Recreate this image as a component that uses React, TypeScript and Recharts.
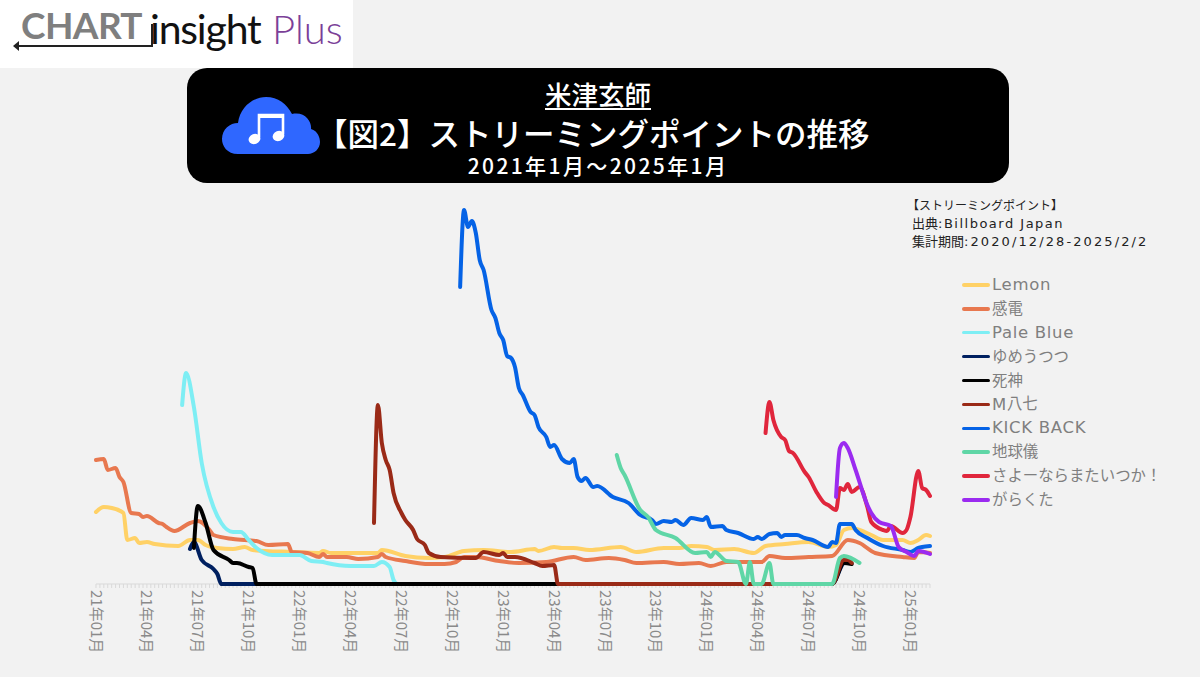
import { LineChart, Line, XAxis, YAxis, Legend } from 'recharts';

const JP = '"Noto Sans CJK JP", "Noto Sans", sans-serif';
const LATIN = '"DejaVu Sans", "Noto Sans CJK JP", sans-serif';

// 週番号(0 = 2021年1月第1週), 相対ポイント
const lemon = [[0,72],[2,77],[4,76],[7,71],[8,44],[10,46],[11,41],[13,42],[15,40],[21,38],[24,44],[26,44],[28,39],[31,36],[35,35],[38,37],[40,34],[50,32],[57,31],[58,33],[60,31],[72,31],[73,34],[79,28],[85,26],[89,27],[94,33],[99,34],[106,32],[112,35],[113,33],[117,37],[119,36],[122,36],[126,34],[134,37],[138,32],[145,36],[149,36],[152,38],[156,37],[158,34],[163,35],[168,31],[171,38],[176,40],[182,42],[187,37],[189,39],[191,54],[193,56],[195,54],[198,49],[201,44],[206,44],[208,41],[210,44],[212,49],[213,48]];
const kanden = [[0,124],[2,125],[3,114],[5,116],[6,107],[7,102],[9,71],[11,70],[12,67],[13,68],[16,61],[17,60],[18,57],[20,53],[24,61],[26,63],[29,54],[30,49],[35,45],[41,43],[44,39],[49,40],[50,32],[54,31],[57,27],[58,30],[59,27],[64,27],[67,25],[72,27],[73,30],[74,27],[79,23],[85,20],[89,20],[92,22],[94,27],[97,27],[103,23],[108,21],[115,22],[122,27],[125,24],[131,26],[135,24],[138,21],[145,22],[149,20],[154,21],[157,18],[161,22],[166,22],[170,22],[172,28],[176,26],[182,27],[188,28],[192,44],[195,41],[199,31],[206,27],[209,26],[210,32],[213,31]];
const paleBlue = [[22,179],[23,211],[25,177],[27,121],[30,77],[32,61],[35,52],[37,52],[39,44],[41,36],[45,29],[52,29],[55,23],[58,22],[59,21],[65,18],[71,18],[73,22],[75,17],[76,4],[77,0],[188,0]];
const yumeutsutsu = [[24,35],[25,42],[27,24],[30,15],[31,10],[32,0],[188,0],[191,21],[192,22]];
const shinigami = [[25,36],[26,78],[28,61],[30,34],[34,24],[35,21],[36,21],[39,17],[40,16],[41,0],[188,0],[191,21],[193,20]];
const m87 = [[71,61],[72,179],[73,141],[74,124],[75,114],[76,91],[78,71],[79,64],[81,54],[82,45],[84,39],[85,31],[88,27],[96,26],[97,26],[99,32],[103,29],[104,31],[105,27],[107,27],[112,21],[114,18],[117,19],[118,0],[188,0],[191,24],[192,24],[193,21]];
const kickBack = [[93,297],[94,374],[95,357],[96,363],[97,351],[98,324],[99,314],[101,274],[102,266],[103,251],[104,244],[105,228],[106,226],[107,217],[108,196],[109,189],[111,172],[112,169],[113,157],[115,147],[116,137],[117,139],[119,125],[121,121],[122,125],[123,107],[124,103],[125,106],[127,97],[128,98],[132,87],[136,81],[139,69],[142,64],[143,60],[145,63],[147,62],[148,64],[150,59],[152,66],[155,64],[156,67],[157,57],[160,58],[161,54],[164,51],[168,45],[169,47],[170,45],[172,50],[174,51],[175,47],[176,49],[179,49],[181,46],[183,44],[187,37],[188,42],[189,41],[190,60],[193,60],[194,54],[197,46],[201,38],[206,34],[208,32],[210,36],[211,37],[213,38]];
const chikyugi = [[133,129],[134,116],[135,109],[139,74],[141,67],[143,54],[148,46],[153,31],[156,32],[157,27],[158,32],[161,23],[164,22],[166,0],[167,22],[168,0],[170,0],[172,21],[173,0],[188,0],[190,26],[191,28],[195,21]];
const sayonara = [[171,151],[172,182],[173,164],[175,147],[176,144],[177,133],[178,131],[181,112],[182,107],[184,92],[186,81],[187,79],[189,74],[190,96],[191,94],[192,100],[193,92],[195,97],[197,77],[198,62],[201,54],[202,53],[203,58],[206,51],[207,54],[208,67],[210,113],[211,96],[212,94],[213,88]];
const garakuta = [[189,87],[190,136],[191,141],[192,136],[194,114],[197,79],[198,71],[200,62],[203,58],[205,37],[207,32],[209,28],[210,33],[213,30]];

const seriesNames = ['Lemon', '感電', 'Pale Blue', 'ゆめうつつ', '死神', 'M八七', 'KICK BACK', '地球儀', 'さよーならまたいつか！', 'がらくた'];
const seriesValues = [lemon, kanden, paleBlue, yumeutsutsu, shinigami, m87, kickBack, chikyugi, sayonara, garakuta];
const seriesColors = ['#FFD166', '#E8784F', '#7EEEF4', '#002060', '#000000', '#9A2A17', '#0563E6', '#5FD6A6', '#E0263C', '#9B2BF0'];

const tickWeeks = [0, 13, 26, 39, 52, 65, 78, 91, 104, 117, 130, 143, 156, 169, 182, 195, 208];
const tickLabels = ['21年01月', '21年04月', '21年07月', '21年10月', '22年01月', '22年04月', '22年07月', '22年10月', '23年01月', '23年04月', '23年07月', '23年10月', '24年01月', '24年04月', '24年07月', '24年10月', '25年01月'];
const allWeeks = Array.from({ length: 214 }, (_, i) => i);

function WeekTick({ x, y, payload }: any) {
  const i = tickWeeks.indexOf(payload.value);
  if (i < 0) return <g />;
  return (
    <text
      x={x}
      y={y}
      dy={-1}
      transform={`rotate(90 ${x} ${y})`}
      fill="#8a8a8a"
      fontSize={15}
      fontFamily={JP}
      dominantBaseline="central"
      textAnchor="start"
    >
      {tickLabels[i]}
    </text>
  );
}

// 英字だけ幅の広いフォントにする
function MixedText({ text, latin, jp }: { text: string; latin: number; jp: number }) {
  return (
    <>
      {text.split(/([A-Za-z ]+)/).filter(Boolean).map((part, i) =>
        /[A-Za-z]/.test(part) ? (
          <span key={i} style={{ fontFamily: LATIN, fontSize: latin, letterSpacing: 0.7 }}>{part}</span>
        ) : (
          <span key={i} style={{ fontFamily: JP, fontSize: jp, position: 'relative', top: -1 }}>{part}</span>
        )
      )}
    </>
  );
}

function SongLegend() {
  return (
    <div>
      {seriesNames.map((name, i) => (
        <div key={name} style={{ height: 23.9, display: 'flex', alignItems: 'center', whiteSpace: 'nowrap' }}>
          <span style={{ width: 28, height: 3.5, borderRadius: 2, background: seriesColors[i], marginRight: 2 }} />
          <span style={{ color: '#7f7f7f', lineHeight: '20px' }}>
            <MixedText text={name} latin={16.5} jp={15.4} />
          </span>
        </div>
      ))}
    </div>
  );
}

export default function App() {
  return (
    <div style={{ position: 'absolute', left: 0, top: 0, width: 1200, height: 677, background: '#f2f2f2', overflow: 'hidden' }}>
      <LineChart width={1200} height={677} margin={{ top: 184, right: 270, bottom: 23, left: 96 }}>
        <XAxis
          dataKey="week"
          type="number"
          domain={[0, 213]}
          ticks={allWeeks}
          interval={0}
          height={70}
          tickSize={4}
          tickLine={{ stroke: '#d9d9d9' }}
          axisLine={{ stroke: '#d9d9d9' }}
          tick={WeekTick}
          zIndex={100}
        />
        <YAxis hide domain={[0, 400]} />
        <Legend
          layout="vertical"
          align="center"
          verticalAlign="middle"
          content={SongLegend}
          wrapperStyle={{ left: 962, top: 273, width: 230 }}
        />
        {seriesNames.map((name, i) => (
          <Line
            key={name}
            name={name}
            data={seriesValues[i].map(([week, value]) => ({ week, value }))}
            dataKey="value"
            type="monotone"
            stroke={seriesColors[i]}
            strokeWidth={4}
            strokeLinejoin="round"
            strokeLinecap="round"
            dot={false}
            isAnimationActive={false}
          />
        ))}
      </LineChart>

      {/* ロゴ */}
      <div style={{ position: 'absolute', left: 0, top: 0, width: 353, height: 68, background: '#fff' }}>
        <svg width={353} height={68} style={{ position: 'absolute', left: 0, top: 0 }}>
          <text x={21} y={39} fontFamily="Lato" fontWeight={700} fontSize={37} fill="#7f7f7f" letterSpacing={-0.6}>CHART</text>
          <path d="M15 46 H152 V24" fill="none" stroke="#222" strokeWidth={2} />
          <path d="M13 46 L19 41 V51 Z" fill="#222" />
          <text x={150} y={44} fontFamily="Lato" fontWeight={400} fontSize={41} fill="#111" letterSpacing={-1.2}>insight</text>
          <text x={272} y={44} fontFamily="Lato" fontWeight={300} fontSize={40} fill="#7b3f98">Plus</text>
        </svg>
      </div>

      {/* タイトル */}
      <div style={{ position: 'absolute', left: 187, top: 68, width: 822, height: 115, background: '#000', borderRadius: 20, color: '#fff', fontFamily: JP }}>
        <div style={{ position: 'absolute', left: 0, width: 822, top: 11, textAlign: 'center', fontSize: 26.5, lineHeight: '30px', fontWeight: 500 }}>
          <span style={{ textDecoration: 'underline', textUnderlineOffset: 3 }}>米津玄師</span>
        </div>
        <div style={{ position: 'absolute', left: 129, top: 44, fontSize: 31.5, lineHeight: '40px', fontWeight: 500, whiteSpace: 'nowrap' }}>
          【図2】ストリーミングポイントの推移
        </div>
        <div style={{ position: 'absolute', left: 0, width: 822, top: 84, textAlign: 'center', fontSize: 21, lineHeight: '26px', fontWeight: 500, letterSpacing: 2.4 }}>
          2021年1月～2025年1月
        </div>
        <svg width={100} height={60} style={{ position: 'absolute', left: 34, top: 28 }}>
          <path d="M17 58 C6 58 1 50 1 43 C1 33 9 27 17 27 C19 11 32 1 45 1 C57 1 66 8 71 18 C84 15 91 26 90 33 C97 35 99 42 99 46 C99 53 93 58 87 58 Z" fill="#2F67FF" />
          <path d="M38 41 V19 H62 V38" fill="none" stroke="#fff" strokeWidth={2.6} />
          <path d="M38 18 H62 V22 H38 Z" fill="#fff" />
          <ellipse cx={33.5} cy={43} rx={6} ry={5} fill="#fff" transform="rotate(-20 33.5 43)" />
          <ellipse cx={57.5} cy={40} rx={6} ry={5} fill="#fff" transform="rotate(-20 57.5 40)" />
        </svg>
      </div>

      {/* 出典 */}
      <div style={{ position: 'absolute', left: 912, top: 196, color: '#222', whiteSpace: 'nowrap', lineHeight: '17.5px' }}>
        <div style={{ marginLeft: -5 }}><span style={{ fontFamily: JP, fontSize: 12 }}>【ストリーミングポイント】</span></div>
        <div>
          <span style={{ fontFamily: JP, fontSize: 13 }}>出典</span>
          <span style={{ fontFamily: LATIN, fontSize: 13, letterSpacing: 1.5 }}>:Billboard Japan</span>
        </div>
        <div>
          <span style={{ fontFamily: JP, fontSize: 13 }}>集計期間</span>
          <span style={{ fontFamily: LATIN, fontSize: 13, letterSpacing: 2.1 }}>:2020/12/28-2025/2/2</span>
        </div>
      </div>
    </div>
  );
}
